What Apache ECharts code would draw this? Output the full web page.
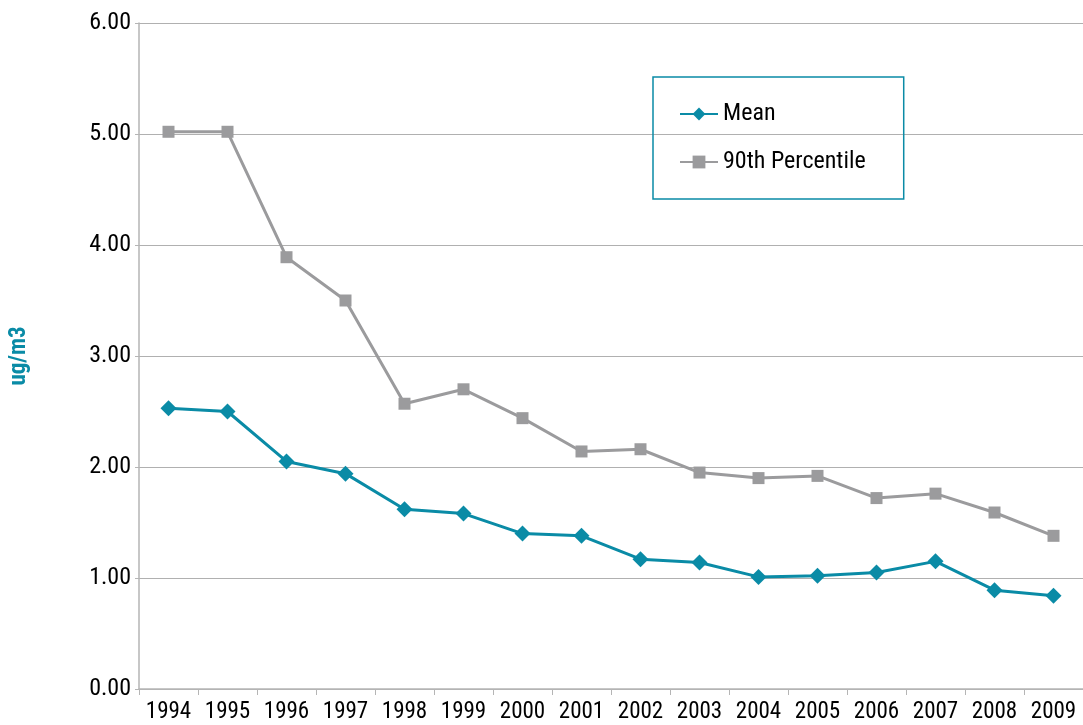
<!DOCTYPE html>
<html>
<head>
<meta charset="utf-8">
<script src="https://cdn.jsdelivr.net/npm/echarts@6/dist/echarts.min.js"></script>
<style>
  html, body { margin: 0; padding: 0; background: #fff; }
  #chart { width: 1083px; height: 725px; }
</style>
</head>
<body>
<div id="chart"></div>
<script>
// data
const years = ['1994', '1995', '1996', '1997', '1998', '1999', '2000', '2001',
  '2002', '2003', '2004', '2005', '2006', '2007', '2008', '2009'];
const meanValues = [2.53, 2.50, 2.05, 1.94, 1.62, 1.58, 1.40, 1.38,
  1.17, 1.14, 1.01, 1.02, 1.05, 1.15, 0.89, 0.84];
const p90Values = [5.02, 5.02, 3.89, 3.50, 2.57, 2.70, 2.44, 2.14,
  2.16, 1.95, 1.90, 1.92, 1.72, 1.76, 1.59, 1.38];

const font = '"Liberation Sans Narrow", "Roboto Condensed", "Liberation Sans", sans-serif';
const teal = '#0a8ba6';
const grey = '#9b9b9d';

const chart = echarts.init(document.getElementById('chart'));

chart.setOption({
  animation: false,
  textStyle: { fontFamily: font },
  grid: { left: 134, right: 0, top: 23, bottom: 36, containLabel: false },
  legend: {
    orient: 'vertical',
    left: 653,
    top: 77,
    padding: [25, 38, 25, 26],
    itemGap: 24,
    itemWidth: 38,
    itemHeight: 16,
    borderColor: teal,
    borderWidth: 1.5,
    textStyle: { fontFamily: font, fontSize: 24, color: '#000' },
    data: ['Mean', '90th Percentile']
  },
  xAxis: {
    type: 'category',
    data: years,
    boundaryGap: true,
    axisLine: { lineStyle: { color: '#b5b5b5', width: 1.5 } },
    axisTick: { show: true, length: 6, lineStyle: { color: '#b5b5b5' } },
    axisLabel: {
      interval: 0, hideOverlap: false,
      fontFamily: font, fontSize: 23, color: '#000', margin: 12
    }
  },
  yAxis: {
    type: 'value',
    min: 0,
    max: 6,
    interval: 1,
    name: 'ug/m3',
    nameLocation: 'middle',
    nameGap: 108,
    nameRotate: 90,
    nameTextStyle: { fontFamily: font, fontSize: 23, fontWeight: 'bold', color: teal },
    axisLine: { show: true, lineStyle: { color: '#b5b5b5', width: 1.5 } },
    axisTick: { show: true, length: 4, lineStyle: { color: '#b5b5b5' } },
    axisLabel: {
      fontFamily: font, fontSize: 24, color: '#000', margin: 8,
      formatter: v => v.toFixed(2)
    },
    splitLine: { show: true, lineStyle: { color: '#b0b0b0', width: 1 } }
  },
  series: [
    {
      name: 'Mean',
      type: 'line',
      data: meanValues,
      symbol: 'diamond',
      symbolSize: 16,
      lineStyle: { color: teal, width: 3 },
      itemStyle: { color: teal }
    },
    {
      name: '90th Percentile',
      type: 'line',
      data: p90Values,
      symbol: 'rect',
      symbolSize: 12,
      lineStyle: { color: grey, width: 3 },
      itemStyle: { color: grey }
    }
  ]
});
</script>
</body>
</html>
